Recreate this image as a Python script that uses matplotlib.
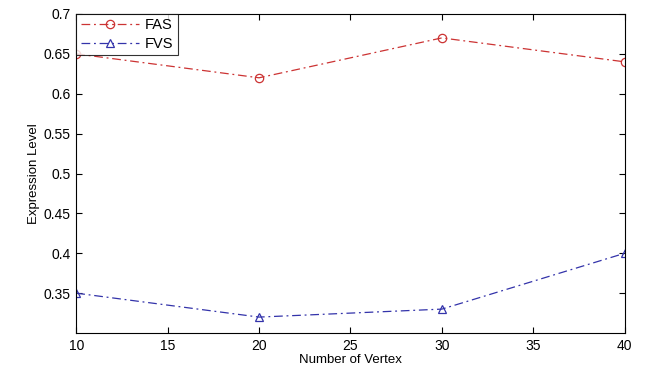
import matplotlib
matplotlib.use('Agg')
import matplotlib.pyplot as plt

# data
vertices = [10, 20, 30, 40]
fas = [0.65, 0.62, 0.67, 0.64]
fvs = [0.35, 0.32, 0.33, 0.40]
yticks = [0.35, 0.4, 0.45, 0.5, 0.55, 0.6, 0.65, 0.7]
xticks = [10, 15, 20, 25, 30, 35, 40]

plt.rcParams['font.family'] = ['Liberation Sans', 'DejaVu Sans']

fig = plt.figure(figsize=(6.46, 3.68), dpi=100)
ax = fig.add_axes([0.118, 0.095, 0.849, 0.867])

dash = (0, (7, 3, 1.5, 3))
ax.plot(vertices, fas, color='#cc3333', linestyle=dash, linewidth=0.9,
        marker='o', markersize=6, markerfacecolor='none', markeredgewidth=0.9, label='FAS')
ax.plot(vertices, fvs, color='#3333aa', linestyle=dash, linewidth=0.9,
        marker='^', markersize=6, markerfacecolor='none', markeredgewidth=0.9, label='FVS')

ax.set_xlim(10, 40)
ax.set_ylim(0.30, 0.70)
ax.set_xticks(xticks)
ax.set_yticks(yticks)
ax.set_yticklabels(['0.35', '0.4', '0.45', '0.5', '0.55', '0.6', '0.65', '0.7'])
ax.tick_params(direction='in', top=True, right=True, labelsize=10, length=4, pad=4)
for s in ax.spines.values():
    s.set_linewidth(0.8)

ax.set_xlabel('Number of Vertex', fontsize=9.5, labelpad=1)
ax.set_ylabel('Expression Level', fontsize=9.5, labelpad=3)

leg = ax.legend(loc='upper left', fontsize=10.5, frameon=True, fancybox=False,
                borderaxespad=0.0, handlelength=4, borderpad=0.3, labelspacing=0.3,
                handletextpad=0.4)
leg.get_frame().set_edgecolor('black')
leg.get_frame().set_linewidth(0.8)

fig.savefig('out.png', dpi=100)
